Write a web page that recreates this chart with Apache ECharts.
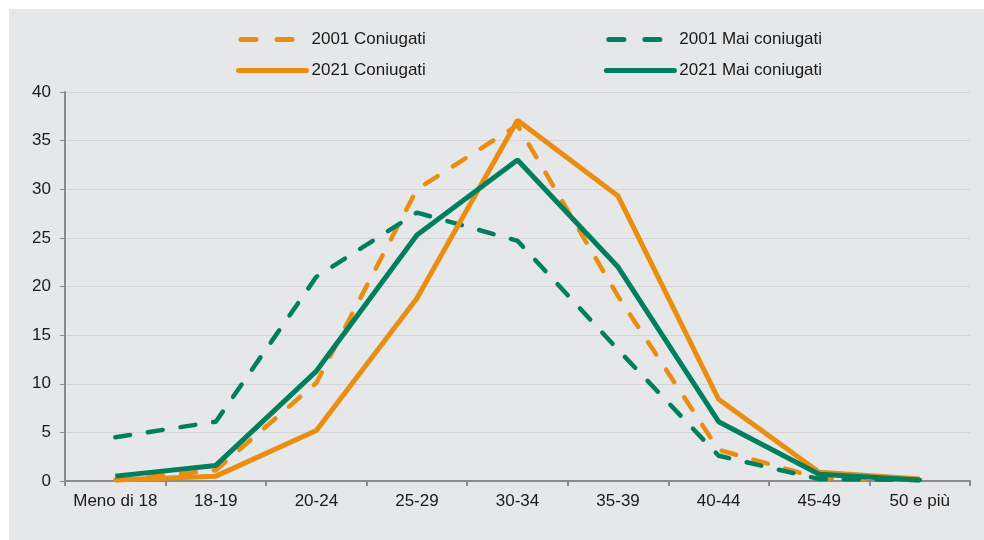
<!DOCTYPE html>
<html>
<head>
<meta charset="utf-8">
<script src="https://cdn.jsdelivr.net/npm/echarts@6/dist/echarts.min.js"></script>
<style>
html, body { margin: 0; padding: 0; background: #fff; }
#main { width: 984px; height: 540px; }
</style>
</head>
<body>
<div id="main"></div>
<script>
//classi di età
var categories = ['Meno di 18', '18-19', '20-24', '25-29', '30-34', '35-39', '40-44', '45-49', '50 e più'];
//valori
var coniugati2001 = [0.1, 1.1, 10.1, 30.0, 36.6, 19.0, 3.2, 0.3, 0.1];
var maiConiugati2001 = [4.5, 6.1, 21.0, 27.6, 24.7, 13.5, 2.6, 0.2, 0.1];
var coniugati2021 = [0.1, 0.5, 5.2, 18.8, 37.1, 29.3, 8.4, 0.9, 0.2];
var maiConiugati2021 = [0.5, 1.6, 11.3, 25.3, 33.0, 22.0, 6.1, 0.7, 0.1];

var orange = '#EA8E11';
var green = '#007F5F';
var font = '"Liberation Sans", Arial, sans-serif';

var chart = echarts.init(document.getElementById('main'));

//icone della legenda: solo la linea, senza simbolo
function dashedIcon(name) {
    return {
        name: name,
        itemStyle: {opacity: 0},
        lineStyle: {width: 5, type: [15, 21], cap: 'round', dashOffset: -2.5}
    };
}
function solidIcon(name) {
    return {
        name: name,
        itemStyle: {opacity: 0},
        lineStyle: {width: 5, type: 'solid', cap: 'round'}
    };
}

var legendBase = {
    left: 231,
    itemWidth: 68,
    itemHeight: 14,
    itemGap: 178,
    textStyle: {fontSize: 17, color: '#1a1a1a', fontFamily: font},
    selectedMode: false
};

var option = {
    backgroundColor: '#fff',
    animation: false,
    graphic: [{
        type: 'rect',
        z: -10,
        shape: {x: 9, y: 9, width: 975, height: 531},
        style: {fill: '#e6e7e9'}
    }],
    legend: [
        Object.assign({}, legendBase, {
            top: 26,
            data: [dashedIcon('2001 Coniugati'), dashedIcon('2001 Mai coniugati')]
        }),
        Object.assign({}, legendBase, {
            top: 57,
            data: [solidIcon('2021 Coniugati'), solidIcon('2021 Mai coniugati')]
        })
    ],
    grid: {left: 65, right: 14, top: 92, bottom: 59},
    xAxis: {
        type: 'category',
        data: categories,
        boundaryGap: true,
        axisLine: {lineStyle: {color: '#8a8a8a', width: 2}},
        axisTick: {show: true, length: 5, lineStyle: {color: '#8a8a8a', width: 2}},
        axisLabel: {margin: 12, fontSize: 17, color: '#1a1a1a', fontFamily: font, interval: 0},
        splitLine: {show: false}
    },
    yAxis: {
        type: 'value',
        min: 0,
        max: 40,
        interval: 5,
        axisLine: {show: true, lineStyle: {color: '#8a8a8a', width: 2}},
        axisTick: {show: true, length: 5, lineStyle: {color: '#8a8a8a', width: 1}},
        axisLabel: {margin: 14, fontSize: 17, color: '#1a1a1a', fontFamily: font},
        splitLine: {show: true, lineStyle: {color: '#d3d4d6', width: 1}}
    },
    series: [
        {
            name: '2001 Coniugati',
            type: 'line',
            data: coniugati2001,
            symbol: 'none',
            color: orange,
            lineStyle: {color: orange, width: 4.5, type: [15, 18], cap: 'round'}
        },
        {
            name: '2001 Mai coniugati',
            type: 'line',
            data: maiConiugati2001,
            symbol: 'none',
            color: green,
            lineStyle: {color: green, width: 4.5, type: [15, 18], cap: 'round'}
        },
        {
            name: '2021 Coniugati',
            type: 'line',
            data: coniugati2021,
            symbol: 'none',
            color: orange,
            lineStyle: {color: orange, width: 5}
        },
        {
            name: '2021 Mai coniugati',
            type: 'line',
            data: maiConiugati2021,
            symbol: 'none',
            color: green,
            lineStyle: {color: green, width: 5}
        }
    ]
};

chart.setOption(option);
</script>
</body>
</html>
